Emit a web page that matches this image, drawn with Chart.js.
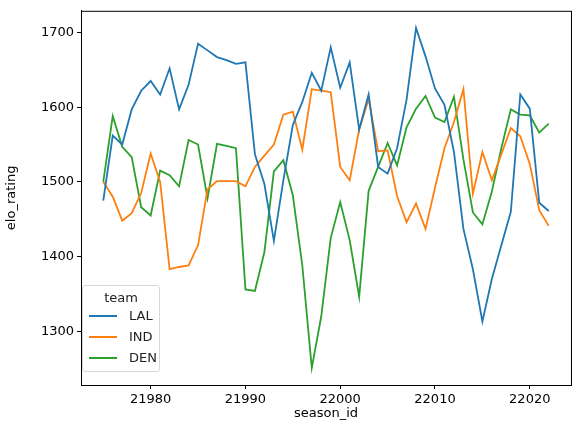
<!DOCTYPE html>
<html>
<head>
<meta charset="utf-8">
<script src="https://cdn.jsdelivr.net/npm/chart.js@4/dist/chart.umd.min.js"></script>
<style>
  body { margin: 0; background: #fff; font-family: "DejaVu Sans", sans-serif; }
  #wrap { position: relative; width: 580px; height: 433px; }
  #legend { position: absolute; left: 82px; top: 285px; width: 78px; height: 87px; border: 1px solid #d8d8d8; border-radius: 3px; background: rgba(255,255,255,0.85); font-size: 13px; color: #222; box-sizing: border-box; }
  #legend .t { text-align: center; margin-top: 4px; }
  #legend .r { display: flex; align-items: center; height: 21px; margin-left: 6px; }
  #legend .r span.l { display: inline-block; width: 28px; height: 2px; margin-right: 12px; }
</style>
</head>
<body>
<div id="wrap">
  <canvas id="myChart" width="580" height="433"></canvas>
  <div id="legend"></div>
</div>
<script>
const seasons = [];
for (let s = 21975; s <= 22022; s++) seasons.push(s);

const teams = ['LAL', 'IND', 'DEN'];
const colors = ['#1f77b4', '#ff7f0e', '#2ca02c'];

const lal = [1475,1562,1550,1597,1622,1635,1617,1652,1597,1630,1685,1676,1667,1663,1658,1660,
  1537,1497,1421,1502,1576,1607,1646,1622,1680,1626,1660,1570,1617,1520,1511,1545,
  1610,1706,1668,1625,1603,1540,1437,1383,1313,1370,1415,1460,1617,1598,1472,1461];
const ind = [1500,1480,1448,1458,1485,1538,1500,1383,1386,1388,1415,1490,1501,1501,1501,1494,
  1520,1535,1550,1590,1594,1543,1624,1622,1620,1520,1502,1570,1611,1541,1542,1481,
  1446,1471,1437,1492,1545,1580,1624,1484,1540,1502,1537,1572,1561,1524,1462,1441];
const den = [1500,1588,1547,1533,1466,1455,1515,1509,1494,1556,1550,1478,1551,1548,1545,1356,
  1354,1406,1514,1529,1482,1388,1251,1320,1425,1473,1422,1346,1488,1520,1552,1522,
  1573,1598,1615,1586,1580,1614,1530,1459,1443,1487,1545,1597,1590,1589,1566,1578];
const series = [lal, ind, den];

const font = { family: '"DejaVu Sans", sans-serif', size: 13 };

const boxPlugin = {
  id: 'box',
  afterDraw(chart) {
    const a = chart.chartArea, c = chart.ctx;
    c.save();
    c.strokeStyle = '#000';
    c.lineWidth = 1;
    c.strokeRect(a.left + 0.5, a.top + 0.5, a.right - a.left, a.bottom - a.top);
    c.restore();
  }
};

new Chart(document.getElementById('myChart'), {
  type: 'line',
  data: {
    datasets: teams.map((t, i) => ({
      label: t,
      data: seasons.map((s, j) => ({ x: s, y: series[i][j] })),
      borderColor: colors[i],
      borderWidth: 1.8,
      pointRadius: 0,
      tension: 0
    }))
  },
  options: {
    responsive: false,
    animation: false,
    layout: { padding: { top: 10, right: 9, left: 2 } },
    plugins: { legend: { display: false }, tooltip: { enabled: false } },
    scales: {
      x: {
        type: 'linear', min: 21972.65, max: 22024.35,
        afterFit: s => { s.height = 48; },
        afterBuildTicks: s => { s.ticks = [21980, 21990, 22000, 22010, 22020].map(v => ({ value: v })); },
        grid: { drawOnChartArea: false, tickLength: 4, color: '#000' },
        border: { color: '#000' },
        ticks: { font, color: '#000', padding: 3, maxRotation: 0, callback: v => String(v) },
        title: { display: true, text: 'season_id', font, color: '#000', padding: { top: 0, bottom: 12 } }
      },
      y: {
        min: 1228, max: 1729,
        afterFit: s => { s.width = 79; },
        afterBuildTicks: s => { s.ticks = [1300, 1400, 1500, 1600, 1700].map(v => ({ value: v })); },
        grid: { drawOnChartArea: false, tickLength: 4, color: '#000' },
        border: { color: '#000' },
        ticks: { font, color: '#000', padding: 3, callback: v => String(v) },
        title: { display: true, text: 'elo_rating', font, color: '#000', padding: 2 }
      }
    }
  },
  plugins: [boxPlugin]
});

const legend = document.getElementById('legend');
legend.innerHTML = '<div class="t">team</div>' + teams.map((t, i) =>
  `<div class="r"><span class="l" style="background:${colors[i]}"></span>${t}</div>`).join('');
</script>
</body>
</html>
